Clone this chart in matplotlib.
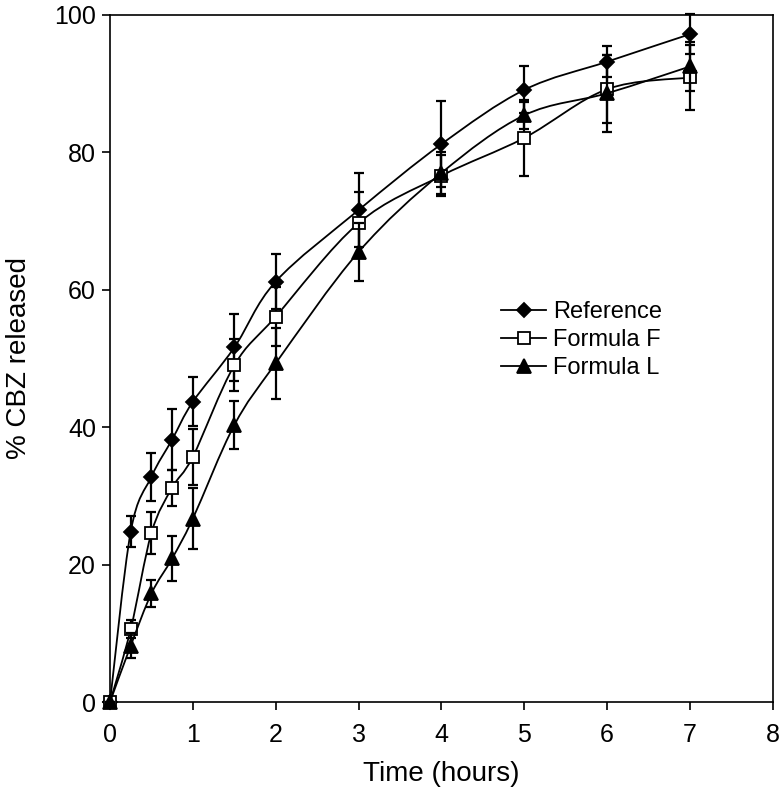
import matplotlib
matplotlib.use('Agg')
import matplotlib.pyplot as plt
from matplotlib.path import Path
from matplotlib.patches import PathPatch

time_h = [0, 0.25, 0.5, 0.75, 1, 1.5, 2, 3, 4, 5, 6, 7]

ref_mean = [0, 24.8, 32.8, 38.2, 43.7, 51.6, 61.2, 71.6, 81.2, 89.1, 93.2, 97.2]
ref_err = [0, 2.3, 3.5, 4.5, 3.6, 4.9, 4.0, 5.4, 6.3, 3.4, 2.3, 2.9]

f_mean = [0, 10.6, 24.6, 31.2, 35.7, 49.0, 56.1, 69.7, 76.6, 82.1, 89.2, 90.9]
f_err = [0, 1.3, 3.0, 2.6, 4.1, 3.8, 4.3, 4.6, 3.0, 5.5, 4.9, 4.7]

l_mean = [0, 8.2, 15.8, 20.9, 26.7, 40.3, 49.3, 65.5, 77.0, 85.4, 88.6, 92.5]
l_err = [0, 1.8, 2.0, 3.3, 4.5, 3.5, 5.2, 4.2, 3.0, 2.0, 5.6, 3.5]

labels = ('Reference', 'Formula F', 'Formula L')

plt.rcParams['font.family'] = ['Liberation Sans', 'DejaVu Sans']


def smooth_path(x, y):
	# bezier segments through the points (like a spreadsheet "smoothed line")
	verts = [(x[0], y[0])]
	codes = [Path.MOVETO]
	n = len(x)
	for i in range(n - 1):
		x0, y0 = x[max(i - 1, 0)], y[max(i - 1, 0)]
		x3, y3 = x[min(i + 2, n - 1)], y[min(i + 2, n - 1)]
		c1 = (x[i] + (x[i + 1] - x0) / 6, y[i] + (y[i + 1] - y0) / 6)
		c2 = (x[i + 1] - (x3 - x[i]) / 6, y[i + 1] - (y3 - y[i]) / 6)
		verts += [c1, c2, (x[i + 1], y[i + 1])]
		codes += [Path.CURVE4] * 3
	return Path(verts, codes)


fig = plt.figure(figsize=(7.83, 7.87), dpi=100)
ax = fig.add_axes([0.1405, 0.108, 0.8465, 0.873])

styles = [
	(ref_mean, ref_err, dict(marker='D', markersize=7.3, markerfacecolor='black')),
	(f_mean, f_err, dict(marker='s', markersize=9, markerfacecolor='white')),
	(l_mean, l_err, dict(marker='^', markersize=9.5, markerfacecolor='black')),
]

for z, (mean, err, st) in enumerate(styles):
	ax.add_patch(PathPatch(smooth_path(time_h, mean), facecolor='none', edgecolor='black',
		linewidth=1.3, zorder=2 + z))
	eb = ax.errorbar(time_h, mean, yerr=err, fmt='none', ecolor='black', elinewidth=1.6,
		capsize=3.8, capthick=1.6, zorder=2 + z)
	for art in eb.get_children():
		art.set_clip_on(False)
	ax.plot(time_h, mean, linestyle='none', color='black', markeredgecolor='black',
		markeredgewidth=1.3, zorder=2.5 + z, clip_on=False, **st)

# legend handles
handles = []
for mean, err, st in styles:
	h, = ax.plot([], [], color='black', linewidth=1.3, markeredgecolor='black',
		markeredgewidth=1.3, **st)
	handles.append(h)
ax.legend(handles, labels, loc='upper left', bbox_to_anchor=(0.576, 0.597), frameon=False,
	fontsize=17, handlelength=1.9, handletextpad=0.3, labelspacing=0.25, borderaxespad=0)

ax.set_xlim(0, 8)
ax.set_ylim(0, 100)
ax.set_xticks(range(0, 9))
ax.set_yticks(range(0, 101, 20))
ax.tick_params(direction='out', length=6, width=1.2, labelsize=18, colors='black')
ax.tick_params(axis='x', pad=9)
ax.tick_params(axis='y', pad=4)
for s in ax.spines.values():
	s.set_linewidth(1.2)

ax.set_xlabel('Time (hours)', fontsize=20, labelpad=10)
ax.set_ylabel('% CBZ released', fontsize=20, labelpad=16)

plt.savefig('out.png', dpi=100)
plt.close()
